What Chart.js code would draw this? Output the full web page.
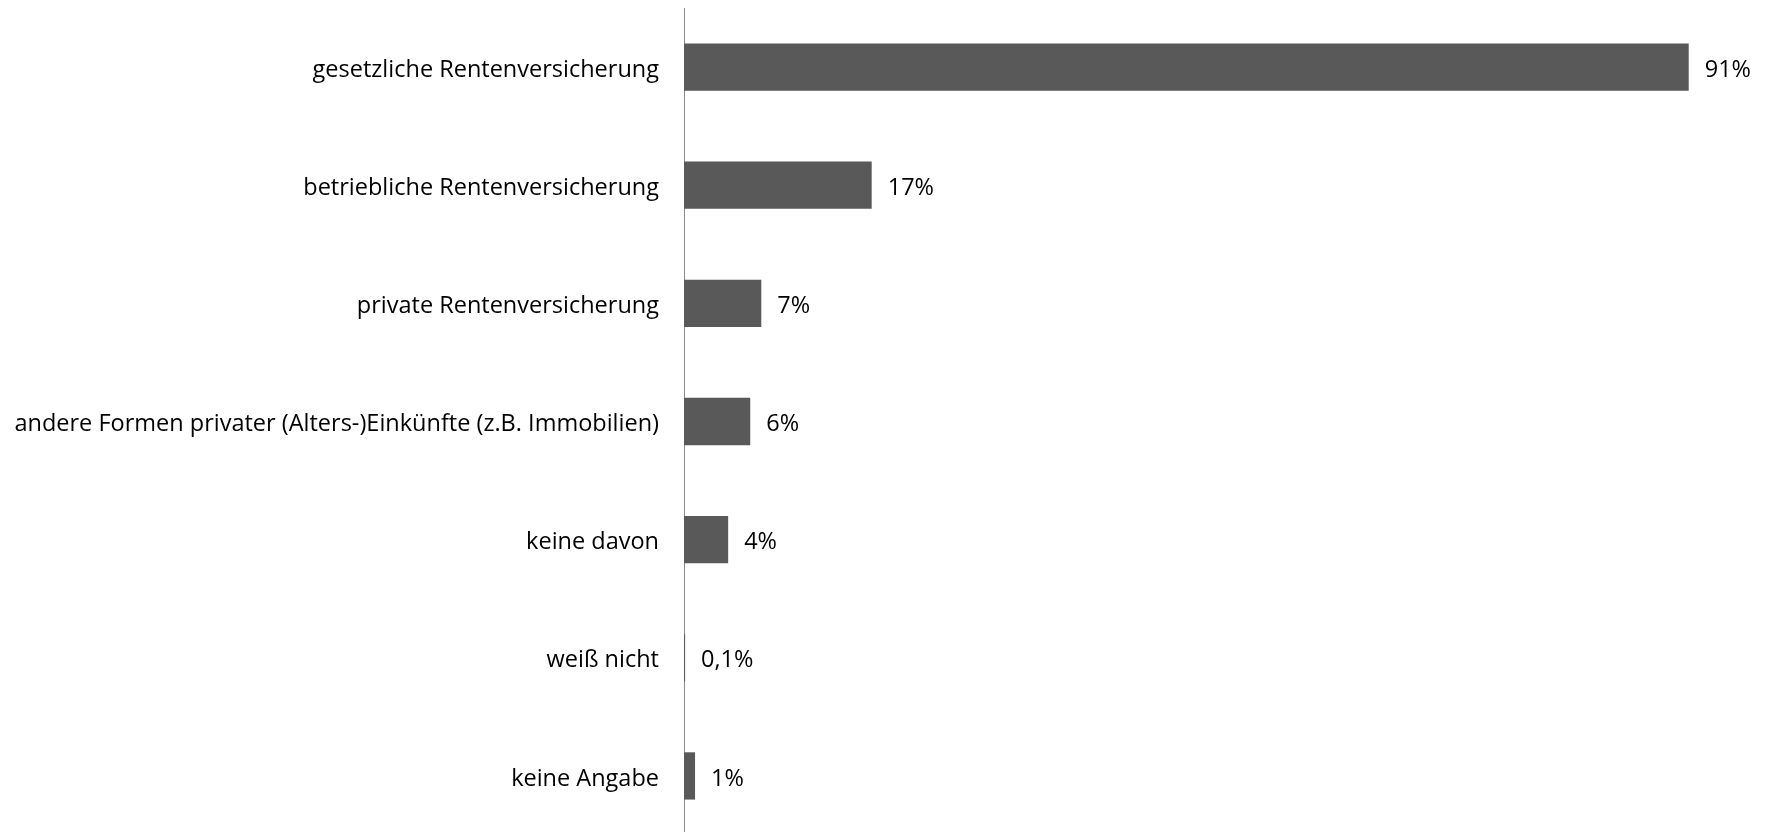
<!DOCTYPE html>
<html lang="de">
<head>
<meta charset="utf-8">
<title>Altersvorsorge</title>
<script src="https://cdn.jsdelivr.net/npm/chart.js@4.4.1/dist/chart.umd.min.js"></script>
<style>
  html, body { margin: 0; padding: 0; background: #fff; overflow: hidden; }
  #wrap { position: relative; width: 1766px; height: 835px; }
</style>
</head>
<body>
<div id="wrap"><canvas id="chart"></canvas></div>
<script>
// Kategorien und Anteile in Prozent
const categories = [
  'gesetzliche Rentenversicherung',
  'betriebliche Rentenversicherung',
  'private Rentenversicherung',
  'andere Formen privater (Alters-)Einkünfte (z.B. Immobilien)',
  'keine davon',
  'weiß nicht',
  'keine Angabe'
];
const shares = [91, 17, 7, 6, 4, 0.1, 1];

const FONT = { family: '"Open Sans", sans-serif', size: 23.5 };

// Prozentwerte mit deutschem Dezimalkomma neben die Balken schreiben
const valueLabels = {
  id: 'valueLabels',
  afterDatasetsDraw(chart) {
    const ctx = chart.ctx;
    const meta = chart.getDatasetMeta(0);
    ctx.save();
    ctx.font = `${FONT.size}px ${FONT.family}`;
    ctx.fillStyle = '#000';
    ctx.textAlign = 'left';
    ctx.textBaseline = 'middle';
    meta.data.forEach((bar, i) => {
      const text = String(shares[i]).replace('.', ',') + '%';
      ctx.fillText(text, bar.x + 16, bar.y + 3);
    });
    ctx.restore();
  }
};

new Chart(document.getElementById('chart'), {
  type: 'bar',
  data: {
    labels: categories,
    datasets: [{
      data: shares,
      backgroundColor: '#595959',
      borderWidth: 0,
      barPercentage: 1,
      categoryPercentage: 0.4
    }]
  },
  options: {
    indexAxis: 'y',
    responsive: true,
    maintainAspectRatio: false,
    animation: false,
    layout: { padding: { top: 8, right: 0, bottom: 0, left: 0 } },
    scales: {
      x: {
        display: false,
        min: 0,
        max: 98
      },
      y: {
        grid: { display: false, drawTicks: false },
        border: { display: true, color: '#8a8a8a', width: 1 },
        ticks: {
          color: '#000',
          padding: 25,
          labelOffset: 3,
          font: FONT
        },
        afterFit(scale) {
          // feste Breite für die Beschriftungsspalte, keine Zusatzränder oben/unten
          scale.width = 684;
          scale.paddingTop = 0;
          scale.paddingBottom = 0;
        }
      }
    },
    plugins: {
      legend: { display: false },
      tooltip: { enabled: false }
    }
  },
  plugins: [valueLabels]
});
</script>
</body>
</html>
